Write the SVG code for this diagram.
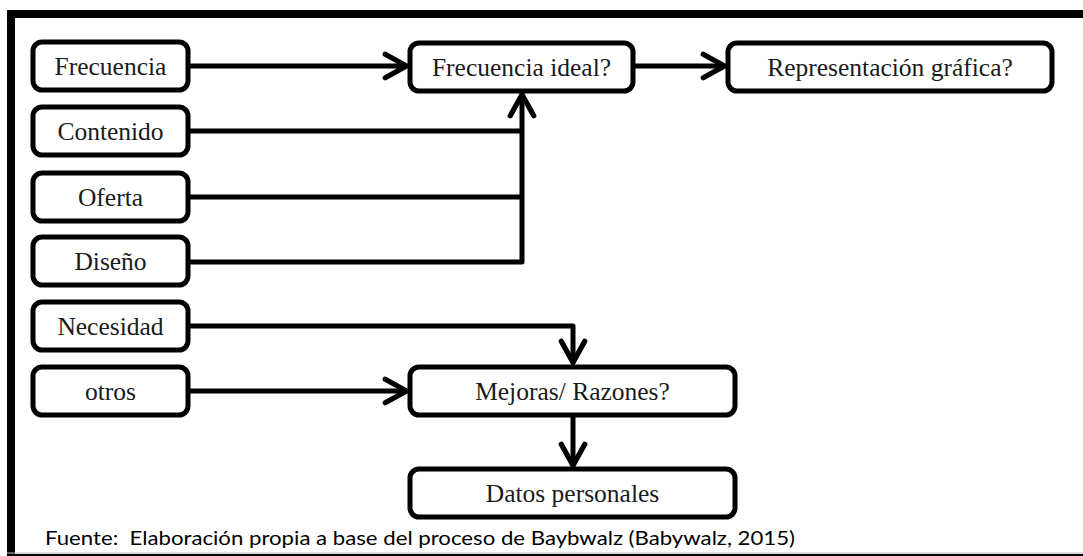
<svg xmlns="http://www.w3.org/2000/svg" width="1083" height="556" viewBox="0 0 1083 556">
  <style>
    .box { fill: #fff; stroke: #000; stroke-width: 5; }
    .lbl { font-family: "Liberation Serif", "Times New Roman", serif; font-size: 25.5px; fill: #1a1a1a; text-anchor: middle; dominant-baseline: central; }
    .wire { fill: none; stroke: #000; stroke-width: 5; stroke-linejoin: round; }
    .note { font-family: Lato, "Open Sans", "Liberation Sans", sans-serif; font-size: 20px; fill: #000; }
  </style>
  <defs>
    <marker id="arrow" viewBox="0 0 12 12" refX="10.5" refY="6" markerWidth="6" markerHeight="6" markerUnits="strokeWidth" orient="auto">
      <path d="M1.8 1.3 L10.3 6 L1.8 10.7" fill="none" stroke="#000" stroke-width="2.1" stroke-linecap="round" stroke-linejoin="round"/>
    </marker>
  </defs>

  <rect x="0" y="0" width="1083" height="556" fill="#fff"/>

  <!-- frame -->
  <g id="frame">
    <rect x="7" y="10" width="1076" height="8" fill="#000"/>
    <rect x="7" y="10" width="8" height="546" fill="#000"/>
    <rect x="7" y="552.5" width="1076" height="1" fill="#bbb"/>
    <rect x="7" y="554" width="1076" height="2" fill="#000"/>
  </g>

  <!-- connectors -->
  <g id="connectors">
    <path class="wire" d="M189 66 H407" marker-end="url(#arrow)"/>
    <path class="wire" d="M635 66 H725" marker-end="url(#arrow)"/>
    <path class="wire" d="M189 131 H522"/>
    <path class="wire" d="M189 197 H522"/>
    <path class="wire" d="M189 262 H522 V94" marker-end="url(#arrow)"/>
    <path class="wire" d="M189 326 H573 V363" marker-end="url(#arrow)"/>
    <path class="wire" d="M189 391 H407" marker-end="url(#arrow)"/>
    <path class="wire" d="M573 417 V466" marker-end="url(#arrow)"/>
  </g>

  <g id="n-frecuencia">
    <rect class="box" x="33" y="42" width="155" height="48" rx="9"/>
    <text class="lbl" x="110.5" y="66">Frecuencia</text>
  </g>
  <g id="n-contenido">
    <rect class="box" x="33" y="107" width="155" height="48" rx="9"/>
    <text class="lbl" x="110.5" y="131">Contenido</text>
  </g>
  <g id="n-oferta">
    <rect class="box" x="33" y="173" width="155" height="48" rx="9"/>
    <text class="lbl" x="110.5" y="197">Oferta</text>
  </g>
  <g id="n-diseno">
    <rect class="box" x="33" y="237" width="155" height="48" rx="9"/>
    <text class="lbl" x="110.5" y="261">Diseño</text>
  </g>
  <g id="n-necesidad">
    <rect class="box" x="33" y="302" width="155" height="48" rx="9"/>
    <text class="lbl" x="110.5" y="326">Necesidad</text>
  </g>
  <g id="n-otros">
    <rect class="box" x="33" y="367" width="155" height="48" rx="9"/>
    <text class="lbl" x="110.5" y="391">otros</text>
  </g>
  <g id="n-frecuencia-ideal">
    <rect class="box" x="410" y="43" width="223" height="48" rx="9"/>
    <text class="lbl" x="521.5" y="67">Frecuencia ideal?</text>
  </g>
  <g id="n-representacion">
    <rect class="box" x="728" y="43" width="324" height="48" rx="9"/>
    <text class="lbl" x="890" y="67">Representación gráfica?</text>
  </g>
  <g id="n-mejoras">
    <rect class="box" x="410" y="367" width="325" height="48" rx="9"/>
    <text class="lbl" x="572.5" y="391">Mejoras/ Razones?</text>
  </g>
  <g id="n-datos">
    <rect class="box" x="410" y="469" width="325" height="48" rx="9"/>
    <text class="lbl" x="572.5" y="493">Datos personales</text>
  </g>

  <text class="note" x="45" y="545" textLength="750" lengthAdjust="spacingAndGlyphs" xml:space="preserve">Fuente:  Elaboración propia a base del proceso de Baybwalz (Babywalz, 2015)</text>
</svg>
